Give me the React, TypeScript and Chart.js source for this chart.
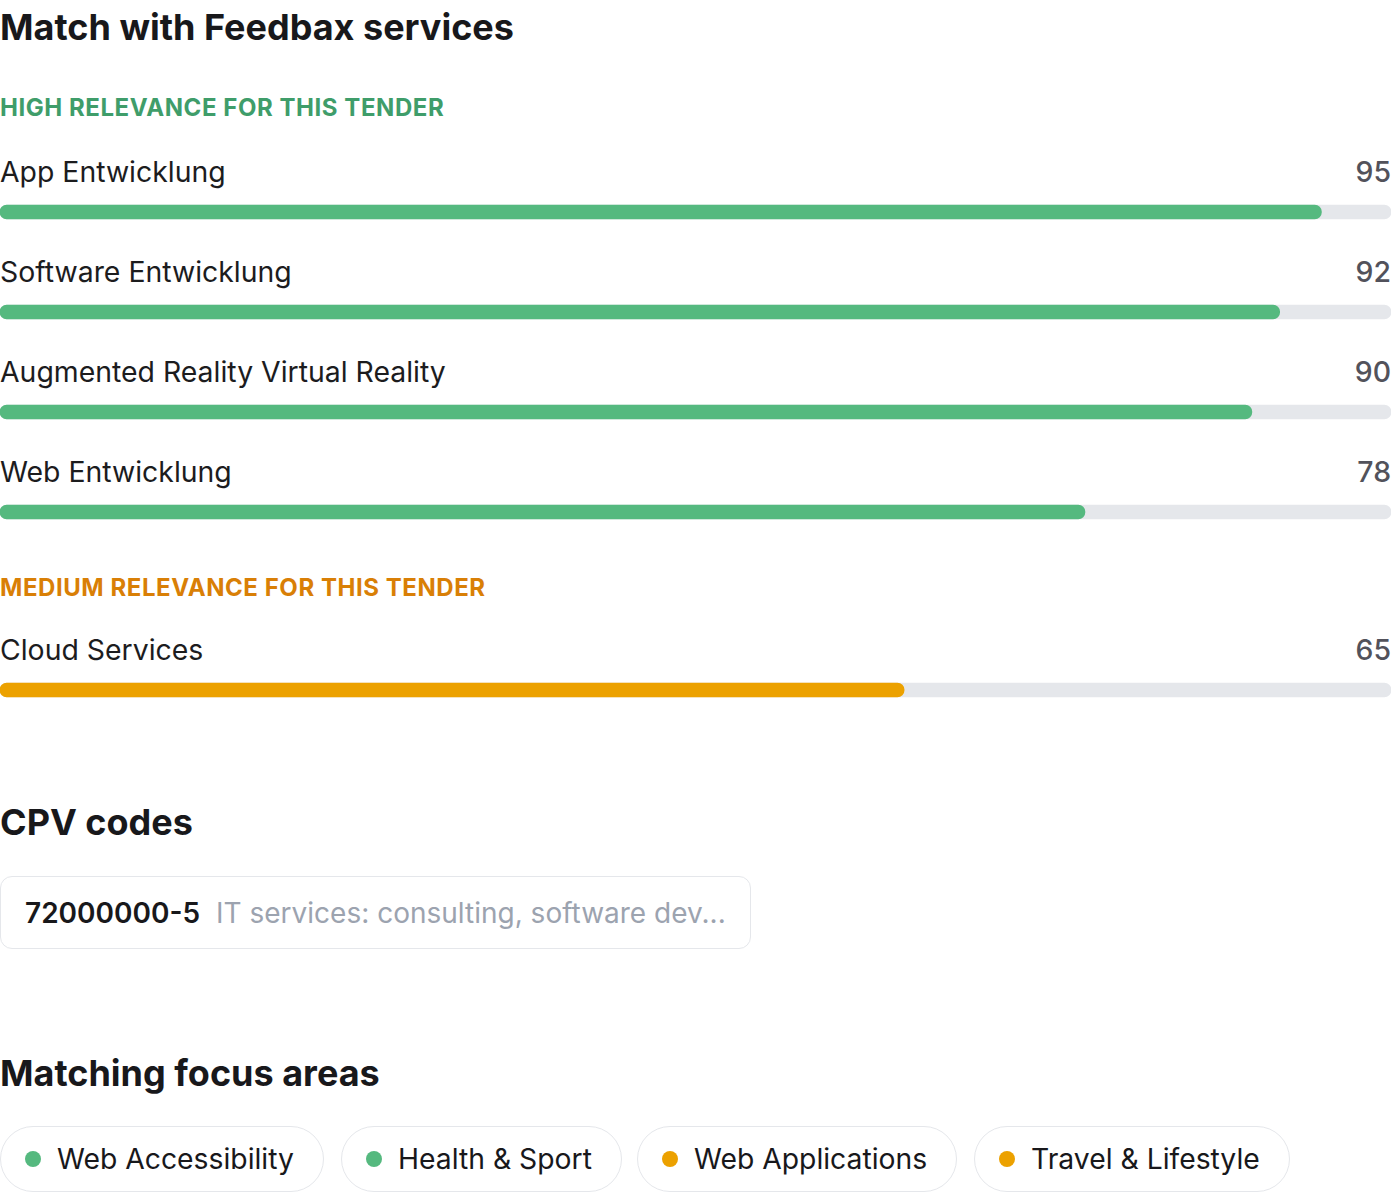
import React, { useEffect, useRef } from "react";
import { Chart, registerables } from "chart.js";

Chart.register(...registerables);

const highServices = ["App Entwicklung", "Software Entwicklung", "Augmented Reality Virtual Reality", "Web Entwicklung"];
const highScores = [95, 92, 90, 78];
const mediumServices = ["Cloud Services"];
const mediumScores = [65];
const scoreMax = 100;

const cpvCodes = ["72000000-5"];
const cpvDescriptions = ["IT services: consulting, software dev..."];

const focusAreas = ["Web Accessibility", "Health & Sport", "Web Applications", "Travel & Lifestyle"];
const focusLevels = ["high", "high", "medium", "medium"];

const GREEN = "#55b97f";
const ORANGE = "#eca100";
const TRACK = "#e5e7eb";
const FONT = "Inter, 'Noto Sans', sans-serif";

function ScoreBar({ value, color }: { value: number; color: string }) {
  const ref = useRef<HTMLCanvasElement | null>(null);
  useEffect(() => {
    if (!ref.current) return;
    const chart = new Chart(ref.current, {
      type: "bar",
      data: {
        labels: [""],
        datasets: [
          {
            data: [value],
            backgroundColor: color,
            borderRadius: 7,
            borderSkipped: false,
            barThickness: 14,
            grouped: false,
            order: 0,
          },
          {
            data: [scoreMax],
            backgroundColor: TRACK,
            borderRadius: 7,
            borderSkipped: false,
            barThickness: 14,
            grouped: false,
            order: 1,
          },
        ],
      },
      options: {
        indexAxis: "y",
        animation: false,
        responsive: true,
        maintainAspectRatio: false,
        layout: { padding: 0 },
        plugins: { legend: { display: false }, tooltip: { enabled: false } },
        scales: {
          x: { min: 0, max: scoreMax, display: false },
          y: { display: false },
        },
      },
    });
    return () => chart.destroy();
  }, [value, color]);
  return (
    <div style={{ position: "relative", width: "100%", height: 28 }}>
      <canvas ref={ref} />
    </div>
  );
}

function Row({ label, value, color, top }: { label: string; value: number; color: string; top: number }) {
  return (
    <div style={{ position: "absolute", left: 0, top, width: 1391 }}>
      <div style={{ display: "flex", justifyContent: "space-between", height: 40, lineHeight: "40px", fontSize: 28.4 }}>
        <span style={{ color: "#1c1c1e" }}>{label}</span>
        <span style={{ color: "#52525b", fontWeight: 500 }}>{value}</span>
      </div>
      <div style={{ marginTop: 6 }}>
        <ScoreBar value={value} color={color} />
      </div>
    </div>
  );
}

export default function App() {
  const h1: React.CSSProperties = { position: "absolute", left: 0, fontSize: 36, fontWeight: 700, color: "#18181b", height: 54, lineHeight: "54px", margin: 0, whiteSpace: "nowrap" };
  const h3: React.CSSProperties = { position: "absolute", left: 0, fontSize: 24, fontWeight: 700, letterSpacing: "0.55px", height: 40, lineHeight: "40px", whiteSpace: "nowrap" };
  const pillLefts = [0, 341, 637, 974];
  return (
    <div style={{ position: "relative", width: 1392, height: 1192, fontFamily: FONT, overflow: "hidden" }}>
      <style>{"body{margin:0}"}</style>
      <div style={{ ...h1, top: 0 }}>Match with Feedbax services</div>
      <div style={{ ...h3, top: 88, color: "#3f9d6a" }}>HIGH RELEVANCE FOR THIS TENDER</div>
      {highServices.map((s, i) => (
        <Row key={s} label={s} value={highScores[i]} color={GREEN} top={152 + i * 100} />
      ))}
      <div style={{ ...h3, top: 568, color: "#d97f06" }}>MEDIUM RELEVANCE FOR THIS TENDER</div>
      {mediumServices.map((s, i) => (
        <Row key={s} label={s} value={mediumScores[i]} color={ORANGE} top={630 + i * 100} />
      ))}

      <div style={{ ...h1, top: 795 }}>CPV codes</div>
      {cpvCodes.map((c, i) => (
        <div
          key={c}
          style={{
            position: "absolute",
            left: 0,
            top: 876,
            width: 751,
            height: 73,
            boxSizing: "border-box",
            border: "1px solid #e5e7eb",
            borderRadius: 12,
            display: "flex",
            alignItems: "center",
            paddingLeft: 24,
            fontSize: 28,
            whiteSpace: "nowrap",
          }}
        >
          <span style={{ fontWeight: 600, color: "#18181b" }}>{c}</span>
          <span style={{ color: "#9ca3af", marginLeft: 16 }}>{cpvDescriptions[i]}</span>
        </div>
      ))}

      <div style={{ ...h1, top: 1046 }}>Matching focus areas</div>
      {focusAreas.map((f, i) => (
        <div
          key={f}
          style={{
            position: "absolute",
            left: pillLefts[i],
            top: 1126,
            height: 66,
            boxSizing: "border-box",
            border: "1px solid #e5e7eb",
            borderRadius: 33,
            display: "flex",
            alignItems: "center",
            paddingLeft: 24,
            paddingRight: 29,
            fontSize: 28.3,
            color: "#18181b",
            whiteSpace: "nowrap",
          }}
        >
          <span
            style={{
              display: "inline-block",
              width: 16,
              height: 16,
              borderRadius: 8,
              background: focusLevels[i] === "high" ? GREEN : ORANGE,
              marginRight: 16,
            }}
          />
          {f}
        </div>
      ))}
    </div>
  );
}
